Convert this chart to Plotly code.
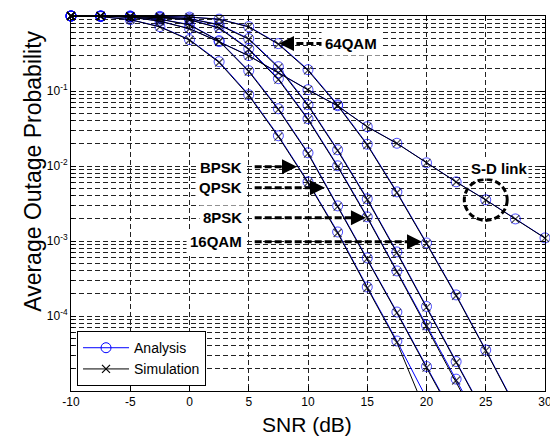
import plotly.graph_objects as go

snr = [-10, -7.5, -5, -2.5, 0, 2.5, 5, 7.5, 10, 12.5, 15, 17.5, 20, 22.5, 25, 27.5, 30]

bpsk_an = [1.0, 0.982, 0.895, 0.722, 0.484, 0.246, 0.0892, 0.0253, 0.00615, 0.00132, 2.44e-4, 4.64e-5, 8.04e-6]
bpsk_sim = [1.0, 0.982, 0.893, 0.715, 0.478, 0.240, 0.0870, 0.0246, 0.00600, 0.00128, 2.36e-4, 4.45e-5, 5.0e-6]
qpsk_an = [1.0, 0.997, 0.967, 0.909, 0.768, 0.469, 0.1866, 0.0580, 0.0150, 0.00294, 5.95e-4, 1.13e-4, 2.12e-5, 4.09e-6]
qpsk_sim = [1.0, 0.997, 0.965, 0.905, 0.760, 0.462, 0.182, 0.0565, 0.0146, 0.00287, 5.8e-4, 1.10e-4, 2.05e-5, 3.9e-6]
psk8_an = [1.0, 1.0, 0.982, 0.952, 0.895, 0.700, 0.367, 0.146, 0.0427, 0.01006, 2.10e-3, 3.99e-4, 7.58e-5, 1.44e-5, 2.66e-6]
psk8_sim = [1.0, 1.0, 0.980, 0.948, 0.888, 0.690, 0.358, 0.142, 0.0415, 0.00980, 2.04e-3, 3.88e-4, 7.35e-5, 1.38e-5, 2.4e-6]
qam16_an = [1.0, 1.0, 0.997, 0.967, 0.923, 0.768, 0.499, 0.211, 0.0656, 0.01646, 3.65e-3, 7.15e-4, 1.34e-4, 2.47e-5, 4.62e-6]
qam16_sim = [1.0, 1.0, 0.995, 0.964, 0.918, 0.760, 0.490, 0.205, 0.0640, 0.0160, 3.55e-3, 6.95e-4, 1.30e-4, 2.40e-5, 4.5e-6]
qam64_an = [1.0, 1.0, 1.0, 0.99, 0.967, 0.909, 0.722, 0.428, 0.1925, 0.0656, 0.0195, 4.52e-3, 9.43e-4, 1.91e-4, 3.52e-5, 6.29e-6]
qam64_sim = [1.0, 1.0, 0.998, 0.985, 0.965, 0.905, 0.715, 0.420, 0.188, 0.0640, 0.0190, 4.40e-3, 9.2e-4, 1.86e-4, 3.45e-5, 6.1e-6]
sd_an = [1.0, 0.997, 0.967, 0.855, 0.679, 0.455, 0.296, 0.1755, 0.1041, 0.0636, 0.0334, 0.0201, 0.01103, 0.00615, 0.00354, 0.00197, 0.0011]
sd_sim = [1.0, 0.997, 0.966, 0.852, 0.675, 0.452, 0.294, 0.1745, 0.1035, 0.0632, 0.0332, 0.0200, 0.01098, 0.00612, 0.00352, 0.00196, 0.00109]

y_ticks = [1, 0.1, 0.01, 0.001, 0.0001]
y_ticktext = ["10<sup>0</sup>", "10<sup>-1</sup>", "10<sup>-2</sup>", "10<sup>-3</sup>", "10<sup>-4</sup>"]
x_ticks = [-10, -5, 0, 5, 10, 15, 20, 25, 30]
x_ticktext = ["-10", "-5", "0", "5", "10", "15", "20", "25", "30"]

labels = ["BPSK", "QPSK", "8PSK", "16QAM", "64QAM", "S-D link"]

YMIN = 1e-5
FONT = "Arial, Liberation Sans, sans-serif"
BLUE = "#0000FF"

fig = go.Figure()

pairs = [(bpsk_an, bpsk_sim), (qpsk_an, qpsk_sim), (psk8_an, psk8_sim),
         (qam16_an, qam16_sim), (qam64_an, qam64_sim), (sd_an, sd_sim)]

for name, (an, sim) in zip(labels, pairs):
    xs = snr[:len(an)]
    fig.add_trace(go.Scatter(
        x=xs, y=an, mode="lines+markers", name=name + " analysis", showlegend=False,
        line=dict(color=BLUE, width=1),
        marker=dict(symbol="circle-open", color=BLUE, line=dict(width=1, color=BLUE),
                    size=[10 if v >= YMIN else 0 for v in an]),
        cliponaxis=False))
for name, (an, sim) in zip(labels, pairs):
    xs = snr[:len(sim)]
    fig.add_trace(go.Scatter(
        x=xs, y=sim, mode="lines+markers", name=name + " simulation", showlegend=False,
        line=dict(color="black", width=1),
        marker=dict(symbol="x-thin", color="black", line=dict(width=1.2, color="black"),
                    size=[8 if v >= YMIN else 0 for v in sim]),
        cliponaxis=False))

# legend entries
fig.add_trace(go.Scatter(x=[None], y=[None], mode="lines+markers", name="Analysis",
                         line=dict(color=BLUE, width=1),
                         marker=dict(symbol="circle-open", size=10, color=BLUE, line=dict(width=1, color=BLUE))))
fig.add_trace(go.Scatter(x=[None], y=[None], mode="lines+markers", name="Simulation",
                         line=dict(color="black", width=1),
                         marker=dict(symbol="x-thin", size=8, color="black", line=dict(width=1.2, color="black"))))

GRID = "#222222"
DASH = "5px,3px"

fig.update_xaxes(
    range=[-10, 30], tickvals=x_ticks, ticktext=x_ticktext, automargin=False,
    showline=True, linecolor="black", linewidth=1, mirror="ticks",
    ticks="inside", ticklen=5, tickcolor="black",
    showgrid=True, gridcolor=GRID, gridwidth=1, griddash=DASH, zeroline=False,
    tickfont=dict(family=FONT, size=12, color="black"),
)
minor_vals = [k * 10.0 ** e for e in range(-5, 0) for k in range(2, 10)]
fig.update_yaxes(
    type="log", range=[-5, 0], tickvals=y_ticks, ticktext=y_ticktext, automargin=False,
    showline=True, linecolor="black", linewidth=1, mirror="ticks",
    ticks="inside", ticklen=5, tickcolor="black",
    showgrid=True, gridcolor=GRID, gridwidth=1, griddash=DASH, zeroline=False,
    minor=dict(tickvals=minor_vals, showgrid=True, gridcolor=GRID, griddash=DASH,
               ticks="inside", ticklen=3, tickcolor="black"),
    tickfont=dict(family=FONT, size=12, color="black"),
)

# axis titles as paper annotations
fig.add_annotation(x=0.498, y=-0.09, xref="paper", yref="paper", text="SNR (dB)", showarrow=False,
                   xanchor="center", yanchor="middle", font=dict(family=FONT, size=21, color="black"))
fig.add_annotation(x=-0.082, y=0.585, xref="paper", yref="paper", text="Average Outage Probability",
                   showarrow=False, textangle=-90, xanchor="center", yanchor="middle",
                   font=dict(family=FONT, size=23, color="black"))

LBL = dict(family=FONT, size=15, color="black")
label_specs = [
    ("BPSK", 4.8, -2.02, 5.5, 9.07, -2.01),
    ("QPSK", 4.8, -2.29, 5.5, 11.43, -2.29),
    ("8PSK", 4.8, -2.685, 5.5, 14.89, -2.69),
    ("16QAM", 4.8, -3.005, 5.5, 19.62, -3.011),
]
for text, tx, ty, x0, tip, ay in label_specs:
    fig.add_annotation(x=tx, y=ty, xref="x", yref="y", text="<b>" + text + "</b>", showarrow=False,
                       xanchor="right", font=LBL, bgcolor="white", borderpad=3)
    fig.add_shape(type="line", xref="x", yref="y", x0=x0, x1=tip - 1.0, y0=10 ** ay, y1=10 ** ay,
                  line=dict(color="black", width=3, dash="7px,3px"))
    fig.add_annotation(x=tip, y=ay, xref="x", yref="y", text="", showarrow=True,
                       arrowhead=2, arrowsize=1, arrowwidth=3, arrowcolor="black", ax=-14, ay=0)

# 64QAM label (arrow pointing left)
fig.add_annotation(x=11.1, y=-0.368, xref="x", yref="y", text="<b>64QAM</b>", showarrow=False,
                   xanchor="left", font=LBL, bgcolor="white", borderpad=3)
fig.add_shape(type="line", xref="x", yref="y", x0=11.3, x1=8.6, y0=10 ** -0.368, y1=10 ** -0.368,
              line=dict(color="black", width=3, dash="7px,3px"))
fig.add_annotation(x=7.55, y=-0.368, xref="x", yref="y", text="", showarrow=True,
                   arrowhead=2, arrowsize=1, arrowwidth=3, arrowcolor="black", ax=14, ay=0)

# S-D link label and dashed circle
fig.add_annotation(x=26.1, y=-2.037, xref="x", yref="y", text="<b>S-D link</b>", showarrow=False,
                   font=LBL, bgcolor="white", borderpad=1)
fig.add_shape(type="circle", xref="x", yref="y", x0=25 - 1.81, x1=25 + 1.81,
              y0=10 ** (-2.451 - 0.274), y1=10 ** (-2.451 + 0.274),
              line=dict(color="black", width=3, dash="6px,3px"))

# page body has an 8px default margin, so the figure is sized to fit the window
fig.update_layout(
    width=550, height=431, autosize=False,
    margin=dict(l=63, r=13, t=8, b=48),
    paper_bgcolor="white", plot_bgcolor="white",
    font=dict(family=FONT, color="black"),
    legend=dict(x=0.0127, y=0.013, xanchor="left", yanchor="bottom",
                bgcolor="white", bordercolor="black", borderwidth=1,
                font=dict(family=FONT, size=14, color="black"),
                tracegroupgap=0, itemwidth=46),
)

fig.write_html("out.html")
